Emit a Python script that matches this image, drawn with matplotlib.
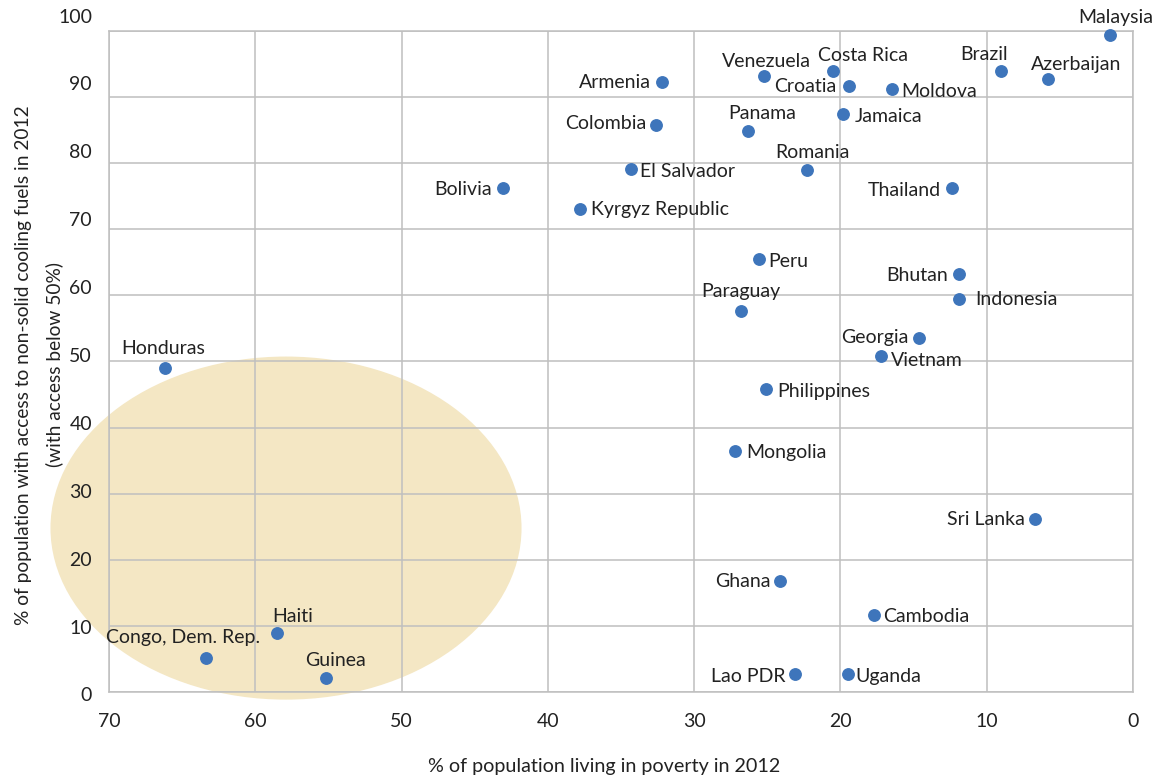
import matplotlib as mpl
mpl.use('Agg')
import matplotlib.pyplot as plt
from matplotlib.patches import Ellipse
from matplotlib.transforms import blended_transform_factory

# data
countries = ["Malaysia", "Azerbaijan", "Brazil", "Moldova", "Costa Rica", "Croatia",
             "Venezuela", "Armenia", "Jamaica", "Panama", "Colombia", "Romania",
             "El Salvador", "Thailand", "Bolivia", "Kyrgyz Republic", "Peru", "Bhutan",
             "Indonesia", "Paraguay", "Georgia", "Vietnam", "Honduras", "Philippines",
             "Mongolia", "Sri Lanka", "Ghana", "Cambodia", "Haiti", "Congo, Dem. Rep.",
             "Guinea", "Lao PDR", "Uganda"]
poverty = [1.6, 5.8, 9.0, 16.5, 20.5, 19.45, 25.2, 32.2, 19.85, 26.3, 32.6, 22.3,
           34.3, 12.4, 43.1, 37.8, 25.6, 11.9, 11.9, 26.8, 14.6, 17.2, 66.2, 25.1,
           27.2, 6.7, 24.1, 17.7, 58.5, 63.4, 55.2, 23.1, 19.5]
access = [99.4, 92.7, 94.0, 91.2, 94.0, 91.7, 93.2, 92.3, 87.4, 84.9, 85.7, 78.9,
          79.1, 76.2, 76.2, 73.1, 65.5, 63.2, 59.5, 57.6, 53.6, 50.8, 49.0, 45.8,
          36.5, 26.1, 16.8, 11.6, 8.9, 5.1, 2.1, 2.7, 2.8]
x_ticks = [70, 60, 50, 40, 30, 20, 10, 0]
y_ticks = [0, 10, 20, 30, 40, 50, 60, 70, 80, 90, 100]

# label placement (offset in pixels from the dot, alignment)
label_pos = [(6, 19, 'center'), (28, 17, 'center'), (-17, 18, 'center'), (10, 0, 'left'),
             (30, 17, 'center'), (-12, 1, 'right'), (2, 16, 'center'), (-11, 1.5, 'right'),
             (12, 0, 'left'), (14, 19, 'center'), (-10, 4, 'right'), (6, 20, 'center'),
             (9, 0, 'left'), (-11, 0, 'right'), (-11, 1, 'right'), (11, 1, 'left'),
             (10, 0, 'left'), (-11, 1, 'right'), (16, 1.5, 'left'), (0, 22, 'center'),
             (-11, 2, 'right'), (10, -2, 'left'), (-1, 22, 'center'), (11, 0, 'left'),
             (11, 0, 'left'), (-10, 2, 'right'), (-10, 1, 'right'), (9, 1, 'left'),
             (15, 19, 'center'), (-22, 23, 'center'), (10, 20, 'center'), (-10, 0, 'right'),
             (8, -1, 'left')]

plt.rcParams['font.family'] = ['Lato', 'DejaVu Sans']
txt_color = '#222222'
grid_color = '#BFBFBF'

fig = plt.figure(figsize=(11.57, 7.78), dpi=100)
ax = fig.add_axes([0.0942, 0.1105, 0.8851, 0.8497])

ax.set_xlim(70, 0)
ax.set_ylim(0, 100)
ax.set_xticks(x_ticks)
ax.set_yticks(y_ticks)
ax.set_yticklabels([])
ax.grid(True, color=grid_color, linewidth=1.1)
ax.set_axisbelow(True)
ax.tick_params(length=0, labelsize=14, labelcolor=txt_color, pad=15)
for s in ax.spines.values():
    s.set_color(grid_color)
    s.set_linewidth(1.1)

# y tick labels sit slightly off their gridlines in the original
tr = blended_transform_factory(ax.transAxes, ax.transData)
for v in y_ticks:
    ax.text(-0.0166, -0.6 + 1.027 * v, str(v), transform=tr, ha='right', va='center',
            fontsize=14, color=txt_color, zorder=3)

# highlighted low-access / high-poverty region
ell = Ellipse((57.9, 24.8), width=32.2, height=51.9, facecolor='#F4E7C4',
              edgecolor='none', zorder=0.2, clip_on=False)
ax.add_patch(ell)

ax.scatter(poverty, access, s=68, color='#3E75BB', zorder=3, clip_on=False)

for name, x, y, (dx, dy, ha) in zip(countries, poverty, access, label_pos):
    # va='center' includes the descent, so nudge down a little
    ax.annotate(name, (x, y), xytext=(dx, dy - 2), textcoords='offset pixels',
                ha=ha, va='center', fontsize=14, color=txt_color, zorder=4,
                annotation_clip=False)

fig.text(0.522, 0.0154, '% of population living in poverty in 2012', ha='center',
         va='center', fontsize=14.2, color=txt_color)
fig.text(0.0207, 0.531, '% of population with access to non-solid cooling fuels in 2012',
         ha='center', va='center', rotation=90, fontsize=13.8, color=txt_color)
fig.text(0.0467, 0.531, '(with access below 50%)', ha='center', va='center',
         rotation=90, fontsize=13.8, color=txt_color)

plt.savefig('out.png', dpi=100)
plt.close()
